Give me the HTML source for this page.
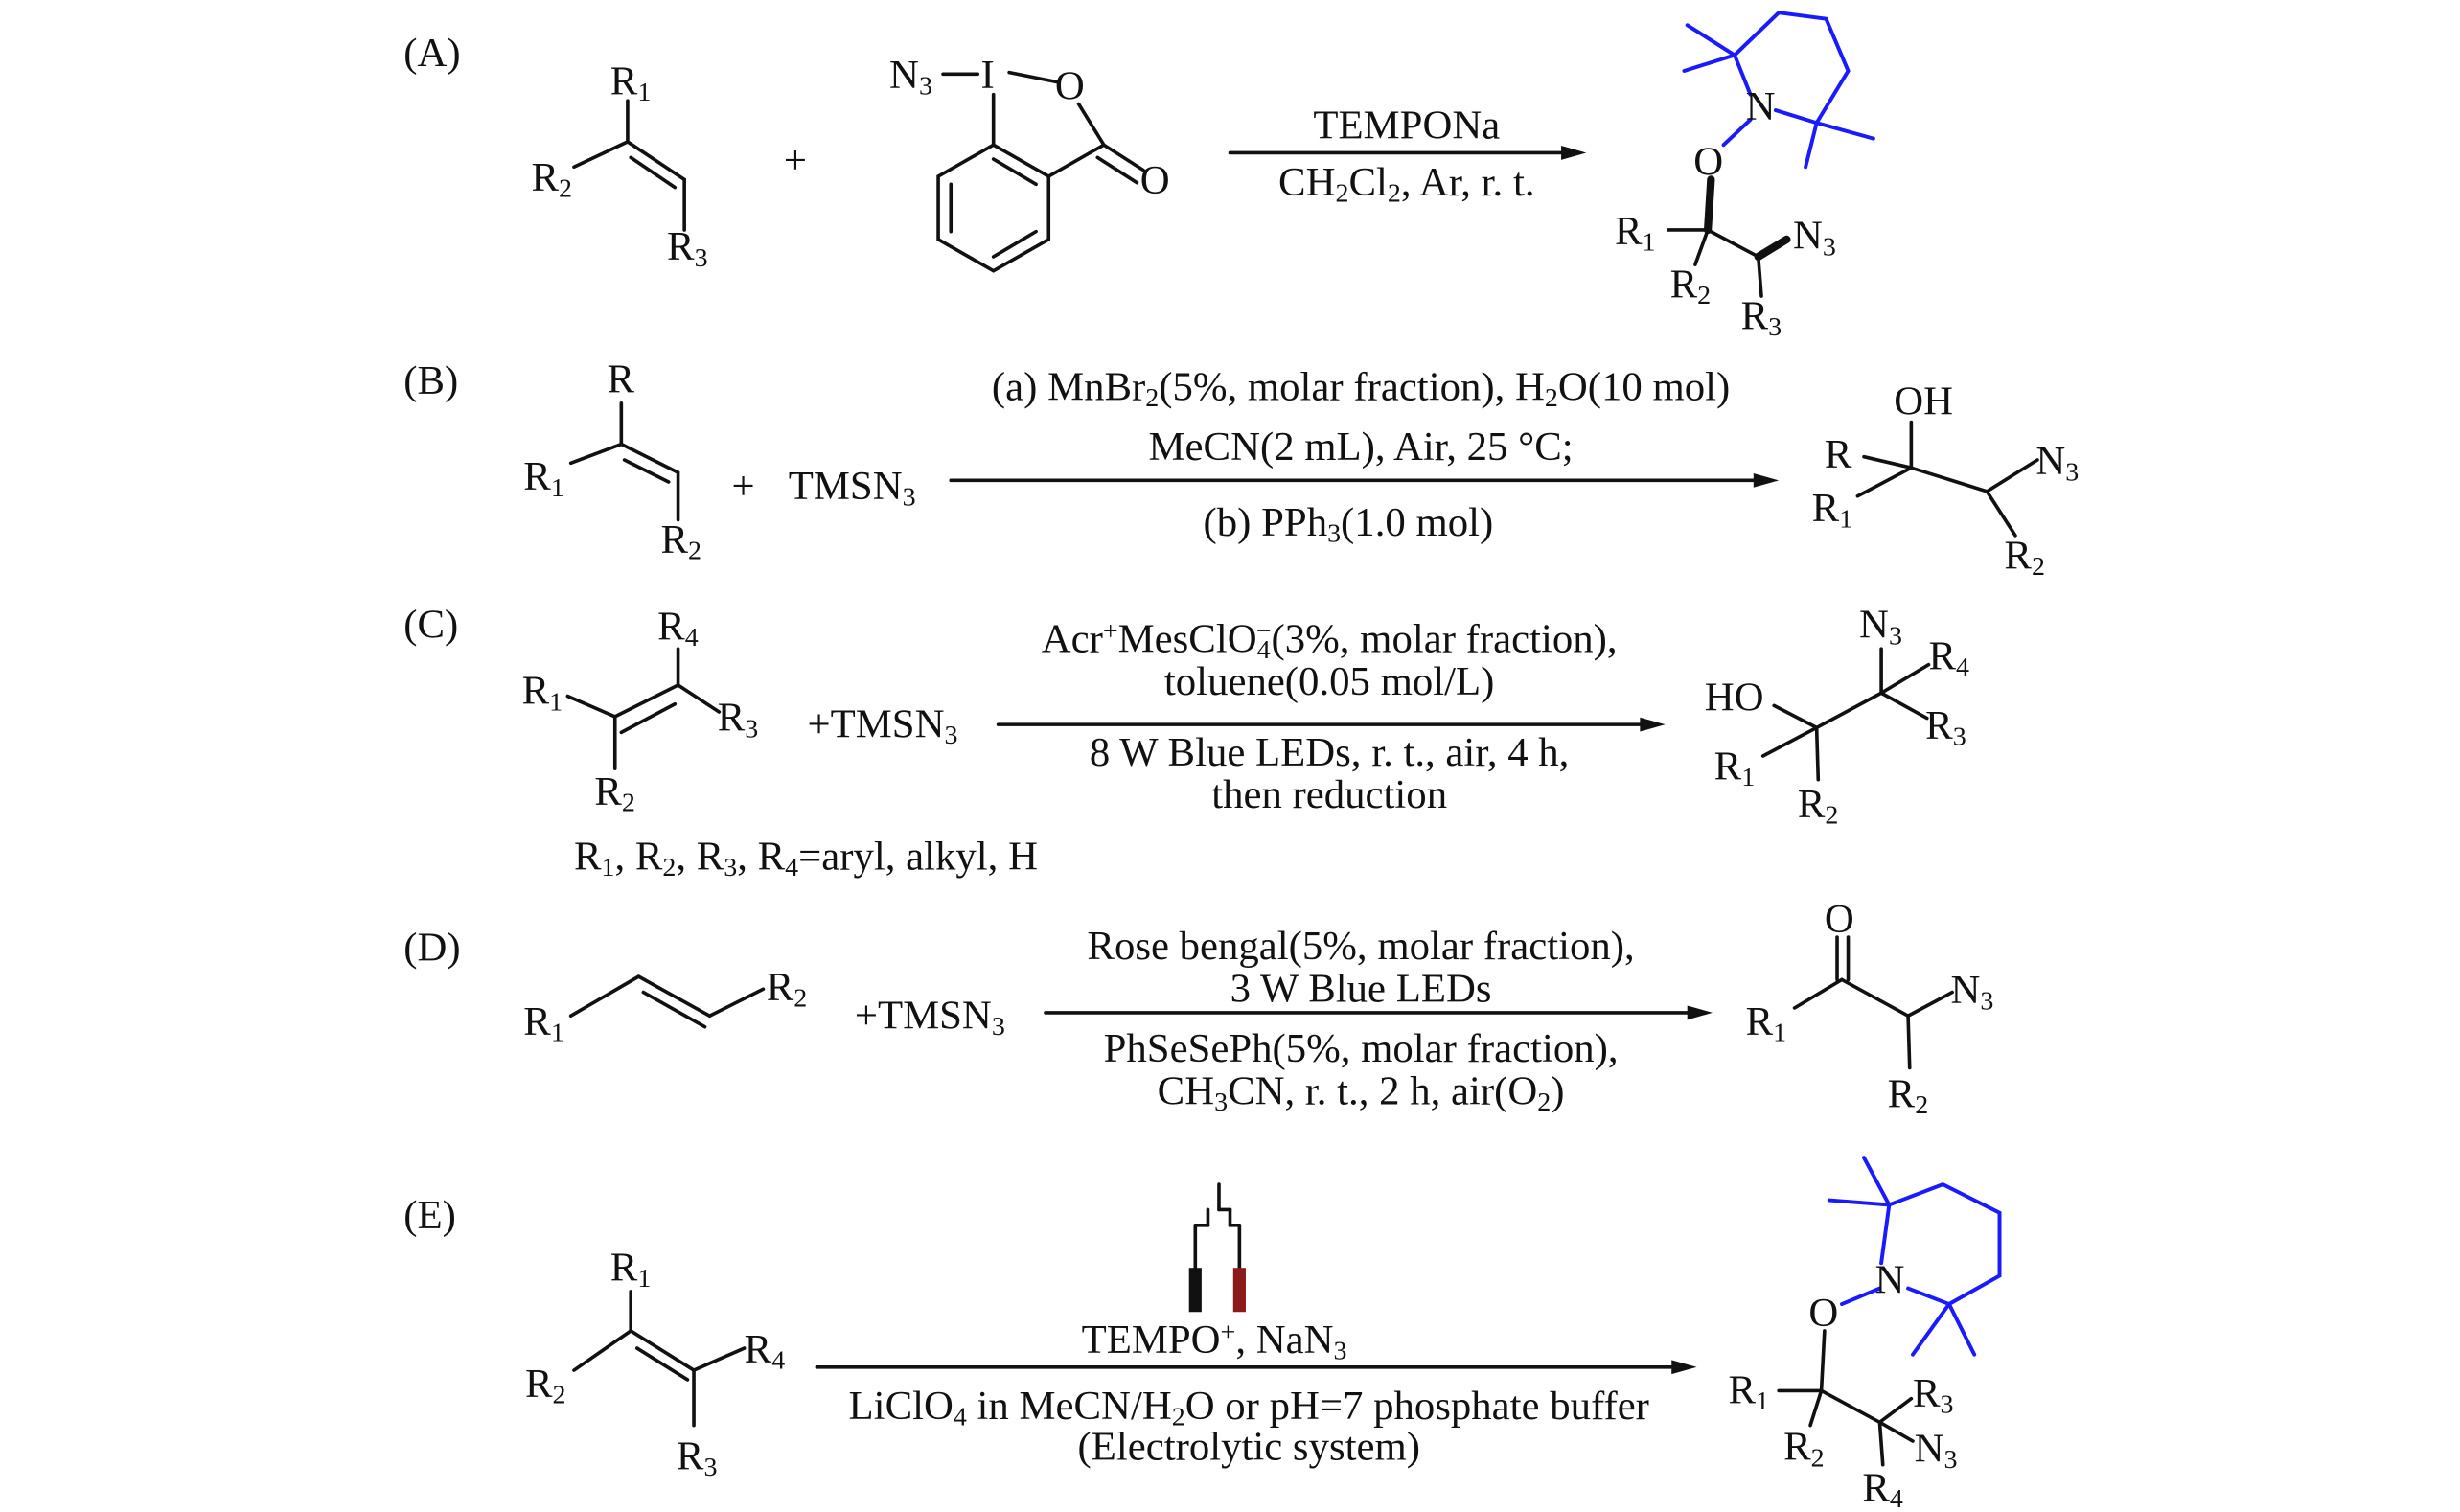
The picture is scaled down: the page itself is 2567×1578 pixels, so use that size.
<!DOCTYPE html>
<html><head><meta charset="utf-8"><style>
html,body{margin:0;padding:0;background:#fff;}
svg{display:block;}
text{font-family:"Liberation Serif",serif;font-size:26px;fill:#111;}
.s{font-size:17px;}
</style></head><body>
<svg width="2567" height="1578" viewBox="0 0 1560 960" preserveAspectRatio="none" xmlns="http://www.w3.org/2000/svg">
<rect width="1560" height="960" fill="#fff"/>
<g stroke="#111" stroke-width="2.2" fill="none" stroke-linecap="round">
<line x1="398" y1="64" x2="398" y2="90"/><line x1="364" y1="106" x2="398" y2="90"/>
<line x1="398" y1="90" x2="434" y2="114"/><line x1="400" y1="100" x2="428" y2="119"/>
<line x1="434" y1="114" x2="434" y2="146"/>
<polygon points="630,92 665,112 665,152 630,172 595,152 595,112"/>
<line x1="603" y1="117" x2="603" y2="147"/><line x1="630" y1="163" x2="657" y2="147"/><line x1="630" y1="101" x2="657" y2="117"/>
<line x1="630" y1="92" x2="630" y2="60"/><line x1="598" y1="47" x2="620" y2="47"/>
<line x1="640" y1="46" x2="670" y2="52"/><line x1="684" y1="66" x2="700" y2="92"/>
<line x1="665" y1="112" x2="700" y2="92"/><line x1="700" y1="92" x2="725" y2="108"/><line x1="696" y1="100" x2="721" y2="116"/>
<line x1="780" y1="97" x2="1000" y2="97"/>
<line x1="603" y1="305" x2="1122" y2="305"/>
<line x1="633" y1="460" x2="1050" y2="460"/>
<line x1="663" y1="643" x2="1080" y2="643"/>
<line x1="518" y1="868" x2="1070" y2="868"/>
<line x1="1085" y1="114" x2="1083" y2="146" stroke-width="5"/>
<line x1="1058" y1="146" x2="1083" y2="146"/>
<line x1="1083" y1="146" x2="1075" y2="168"/>
<line x1="1083" y1="146" x2="1115" y2="163"/>
<line x1="1115" y1="163" x2="1133" y2="152" stroke-width="5"/>
<line x1="1115" y1="163" x2="1117" y2="188"/>
<line x1="394" y1="256" x2="394" y2="282"/><line x1="362" y1="294" x2="394" y2="282"/>
<line x1="394" y1="282" x2="430" y2="300"/><line x1="396" y1="292" x2="424" y2="306"/>
<line x1="430" y1="300" x2="430" y2="330"/>
<line x1="1212" y1="268" x2="1212" y2="297"/><line x1="1182" y1="290" x2="1212" y2="297"/>
<line x1="1178" y1="315" x2="1212" y2="297"/><line x1="1212" y1="297" x2="1260" y2="312"/>
<line x1="1260" y1="312" x2="1292" y2="292"/><line x1="1260" y1="312" x2="1278" y2="340"/>
<line x1="430" y1="412" x2="430" y2="435"/><line x1="360" y1="442" x2="390" y2="455"/>
<line x1="390" y1="455" x2="430" y2="435"/><line x1="394" y1="465" x2="428" y2="447"/>
<line x1="430" y1="435" x2="456" y2="452"/><line x1="390" y1="455" x2="390" y2="488"/>
<line x1="1125" y1="448" x2="1152" y2="462"/><line x1="1152" y1="462" x2="1193" y2="440"/>
<line x1="1193" y1="440" x2="1193" y2="412"/><line x1="1193" y1="440" x2="1223" y2="422"/>
<line x1="1193" y1="440" x2="1222" y2="456"/><line x1="1118" y1="480" x2="1152" y2="462"/>
<line x1="1152" y1="462" x2="1153" y2="495"/>
<line x1="362" y1="645" x2="405" y2="620"/><line x1="405" y1="620" x2="450" y2="645"/>
<line x1="408" y1="630" x2="447" y2="652"/><line x1="450" y1="645" x2="484" y2="628"/>
<line x1="1165" y1="595" x2="1165" y2="622"/><line x1="1172" y1="595" x2="1172" y2="622"/>
<line x1="1138" y1="640" x2="1168" y2="622"/><line x1="1168" y1="622" x2="1210" y2="645"/>
<line x1="1210" y1="645" x2="1238" y2="630"/><line x1="1210" y1="645" x2="1211" y2="678"/>
<line x1="400" y1="820" x2="400" y2="845"/><line x1="364" y1="870" x2="400" y2="845"/>
<line x1="400" y1="845" x2="440" y2="870"/><line x1="404" y1="856" x2="436" y2="876"/>
<line x1="440" y1="870" x2="472" y2="856"/><line x1="440" y1="870" x2="440" y2="905"/>
<line x1="758" y1="805" x2="758" y2="778"/><line x1="758" y1="778" x2="766" y2="778"/><line x1="766" y1="778" x2="766" y2="768"/>
<line x1="773" y1="768" x2="773" y2="752"/><line x1="773" y1="768" x2="780" y2="768"/><line x1="780" y1="768" x2="780" y2="778"/><line x1="780" y1="778" x2="786" y2="778"/><line x1="786" y1="778" x2="786" y2="805"/>
<line x1="1157" y1="845" x2="1155" y2="883"/><line x1="1128" y1="883" x2="1155" y2="883"/>
<line x1="1155" y1="883" x2="1148" y2="905"/><line x1="1155" y1="883" x2="1192" y2="903"/>
<line x1="1192" y1="903" x2="1212" y2="888"/><line x1="1192" y1="903" x2="1213" y2="915"/>
<line x1="1192" y1="903" x2="1194" y2="930"/>
</g>
<rect x="754" y="805" width="8" height="28" fill="#111"/>
<rect x="782" y="805" width="8" height="28" fill="#8b1a1a"/>
<g stroke="#1a1aff" stroke-width="2.4" fill="none" stroke-linecap="round">
<polyline points="1110,60 1100,35 1128,8 1158,12 1172,45 1152,78 1126,70"/>
<line x1="1100" y1="35" x2="1070" y2="16"/><line x1="1100" y1="35" x2="1068" y2="45"/>
<line x1="1152" y1="78" x2="1188" y2="88"/><line x1="1152" y1="78" x2="1145" y2="106"/>
<line x1="1110" y1="76" x2="1093" y2="92"/>
<polyline points="1193,802 1198,765 1232,752 1268,770 1268,810 1236,828 1210,818"/>
<line x1="1198" y1="765" x2="1160" y2="762"/><line x1="1198" y1="765" x2="1182" y2="735"/>
<line x1="1236" y1="828" x2="1213" y2="860"/><line x1="1236" y1="828" x2="1252" y2="860"/>
<line x1="1192" y1="818" x2="1168" y2="828"/>
</g>
<text x="1107" y="76">N</text>
<text x="1189" y="821">N</text>
<text x="256" y="42">(A)</text><text x="256" y="250">(B)</text><text x="256" y="405">(C)</text><text x="256" y="610">(D)</text><text x="256" y="780">(E)</text>
<text x="387" y="60">R<tspan class="s" dy="4">1</tspan></text>
<text x="337" y="121">R<tspan class="s" dy="4">2</tspan></text>
<text x="423" y="165">R<tspan class="s" dy="4">3</tspan></text>
<text x="497" y="110">+</text>
<text x="564" y="56">N<tspan class="s" dy="4">3</tspan></text>
<text x="622" y="56">I</text><text x="669" y="63">O</text><text x="723" y="123">O</text>
<text x="892" y="88" text-anchor="middle">TEMPONa</text>
<text x="892" y="124" text-anchor="middle">CH<tspan class="s" dy="4">2</tspan><tspan dy="-4">Cl</tspan><tspan class="s" dy="4">2</tspan><tspan dy="-4">, Ar, r. t.</tspan></text>
<text x="1074" y="111">O</text>
<text x="1024" y="155">R<tspan class="s" dy="4">1</tspan></text>
<text x="1059" y="189">R<tspan class="s" dy="4">2</tspan></text>
<text x="1137" y="158">N<tspan class="s" dy="4">3</tspan></text>
<text x="1104" y="209">R<tspan class="s" dy="4">3</tspan></text>
<text x="385" y="249">R</text>
<text x="332" y="311">R<tspan class="s" dy="4">1</tspan></text>
<text x="419" y="351">R<tspan class="s" dy="4">2</tspan></text>
<text x="464" y="317">+</text>
<text x="500" y="317">TMSN<tspan class="s" dy="4">3</tspan></text>
<text x="863" y="254" text-anchor="middle">(a) MnBr<tspan class="s" dy="4">2</tspan><tspan dy="-4">(5%, molar fraction), H</tspan><tspan class="s" dy="4">2</tspan><tspan dy="-4">O(10 mol)</tspan></text>
<text x="863" y="292" text-anchor="middle">MeCN(2 mL), Air, 25 °C;</text>
<text x="855" y="340" text-anchor="middle">(b) PPh<tspan class="s" dy="4">3</tspan><tspan dy="-4">(1.0 mol)</tspan></text>
<text x="1201" y="263">OH</text>
<text x="1157" y="297">R</text>
<text x="1149" y="331">R<tspan class="s" dy="4">1</tspan></text>
<text x="1291" y="301">N<tspan class="s" dy="4">3</tspan></text>
<text x="1271" y="361">R<tspan class="s" dy="4">2</tspan></text>
<text x="417" y="406">R<tspan class="s" dy="4">4</tspan></text>
<text x="331" y="447">R<tspan class="s" dy="4">1</tspan></text>
<text x="455" y="464">R<tspan class="s" dy="4">3</tspan></text>
<text x="377" y="511">R<tspan class="s" dy="4">2</tspan></text>
<text x="512" y="468">+TMSN<tspan class="s" dy="4">3</tspan></text>
<text x="843" y="414" text-anchor="middle">Acr<tspan class="s" dy="-8">+</tspan><tspan dy="8">MesClO</tspan><tspan class="s" dy="4">4</tspan><tspan class="s" dx="-9" dy="-12">−</tspan><tspan dy="8">(3%, molar fraction),</tspan></text>
<text x="843" y="441" text-anchor="middle">toluene(0.05 mol/L)</text>
<text x="843" y="486" text-anchor="middle">8 W Blue LEDs, r. t., air, 4 h,</text>
<text x="843" y="513" text-anchor="middle">then reduction</text>
<text x="364" y="552">R<tspan class="s" dy="4">1</tspan><tspan dy="-4">, R</tspan><tspan class="s" dy="4">2</tspan><tspan dy="-4">, R</tspan><tspan class="s" dy="4">3</tspan><tspan dy="-4">, R</tspan><tspan class="s" dy="4">4</tspan><tspan dy="-4">=aryl, alkyl, H</tspan></text>
<text x="1081" y="451">HO</text>
<text x="1179" y="405">N<tspan class="s" dy="4">3</tspan></text>
<text x="1223" y="425">R<tspan class="s" dy="4">4</tspan></text>
<text x="1221" y="469">R<tspan class="s" dy="4">3</tspan></text>
<text x="1087" y="495">R<tspan class="s" dy="4">1</tspan></text>
<text x="1140" y="519">R<tspan class="s" dy="4">2</tspan></text>
<text x="332" y="657">R<tspan class="s" dy="4">1</tspan></text>
<text x="486" y="635">R<tspan class="s" dy="4">2</tspan></text>
<text x="542" y="653">+TMSN<tspan class="s" dy="4">3</tspan></text>
<text x="863" y="609" text-anchor="middle">Rose bengal(5%, molar fraction),</text>
<text x="863" y="636" text-anchor="middle">3 W Blue LEDs</text>
<text x="863" y="674" text-anchor="middle">PhSeSePh(5%, molar fraction),</text>
<text x="863" y="701" text-anchor="middle">CH<tspan class="s" dy="4">3</tspan><tspan dy="-4">CN, r. t., 2 h, air(O</tspan><tspan class="s" dy="4">2</tspan><tspan dy="-4">)</tspan></text>
<text x="1157" y="592">O</text>
<text x="1107" y="657">R<tspan class="s" dy="4">1</tspan></text>
<text x="1237" y="637">N<tspan class="s" dy="4">3</tspan></text>
<text x="1197" y="703">R<tspan class="s" dy="4">2</tspan></text>
<text x="387" y="813">R<tspan class="s" dy="4">1</tspan></text>
<text x="333" y="887">R<tspan class="s" dy="4">2</tspan></text>
<text x="472" y="865">R<tspan class="s" dy="4">4</tspan></text>
<text x="429" y="933">R<tspan class="s" dy="4">3</tspan></text>
<text x="770" y="859" text-anchor="middle">TEMPO<tspan class="s" dy="-8">+</tspan><tspan dy="8">, NaN</tspan><tspan class="s" dy="4">3</tspan></text>
<text x="792" y="901" text-anchor="middle">LiClO<tspan class="s" dy="4">4</tspan><tspan dy="-4"> in MeCN/H</tspan><tspan class="s" dy="4">2</tspan><tspan dy="-4">O or pH=7 phosphate buffer</tspan></text>
<text x="792" y="927" text-anchor="middle">(Electrolytic system)</text>
<text x="1147" y="842">O</text>
<text x="1096" y="891">R<tspan class="s" dy="4">1</tspan></text>
<text x="1131" y="927">R<tspan class="s" dy="4">2</tspan></text>
<text x="1213" y="893">R<tspan class="s" dy="4">3</tspan></text>
<text x="1214" y="928">N<tspan class="s" dy="4">3</tspan></text>
<text x="1181" y="953">R<tspan class="s" dy="4">4</tspan></text>
<g fill="#111">
<polygon points="1006,97 990,92.5 990,101.5"/>
<polygon points="1128,305 1112,300.5 1112,309.5"/>
<polygon points="1056,460 1040,455.5 1040,464.5"/>
<polygon points="1086,643 1070,638.5 1070,647.5"/>
<polygon points="1076,868 1060,863.5 1060,872.5"/>
</g>
</svg>
</body></html>
